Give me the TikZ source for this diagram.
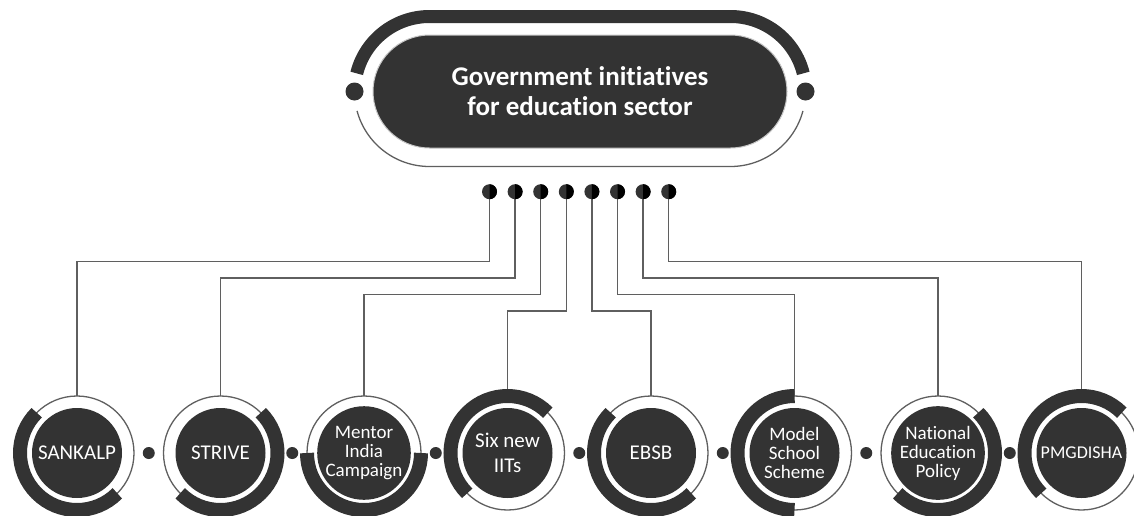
\documentclass[tikz,border=0pt]{standalone}
\usepackage{fontspec}
\setmainfont{Carlito}[Ligatures={NoCommon}]
\usetikzlibrary{shapes.misc}
\pgfdeclarelayer{bg}
\pgfsetlayers{bg,main}
\definecolor{ink}{HTML}{333333}
\definecolor{wirec}{HTML}{5F5F5F}
\begin{document}
\begin{tikzpicture}[x=1pt,y=1pt,
  wire/.style={draw=wirec, line width=1.5pt},
  ringline/.style={draw=wirec, line width=1.3pt},
  ring/.style={circle, draw=wirec, line width=1.3pt, minimum size=114pt, inner sep=0pt, outer sep=0pt},
  disk/.style={circle, fill=ink, minimum size=90pt, inner sep=0pt, text=white, align=center, font=\fontsize{21}{21}\selectfont},
  stack/.style={font=\fontsize{19}{19}\selectfont},
  band/.style={draw=ink, line width=14pt},
  knob/.style={circle, fill=ink, minimum size=12pt, inner sep=0pt},
  pin/.style={circle, fill=ink, minimum size=15pt, inner sep=0pt, outer sep=0pt},
  bigknob/.style={circle, fill=ink, minimum size=18pt, inner sep=0pt},
]
\clip (0,0) rectangle (1134,-515);

% ---- title capsule ----
\node[rounded rectangle, fill=ink, draw=black!22, line width=1pt,
      minimum width=414pt, minimum height=113pt, inner sep=0pt,
      text=white, align=center, font=\bfseries\fontsize{27}{30}\selectfont]
  (head) at (580,-91.5) {Government initiatives\\for education sector};
\draw[band, line width=13pt] (429.5,-91.5) ++(166:75)
  arc[start angle=166, end angle=90, radius=75] -- (730.5,-16.5)
  arc[start angle=90, end angle=14, radius=75];
\draw[ringline] (429.5,-91.5) ++(195:75)
  arc[start angle=195, end angle=270, radius=75] -- (730.5,-166.5)
  arc[start angle=270, end angle=345, radius=75];
\node[bigknob] (hl) at (354.5,-91.5) {};
\node[bigknob] (hr) at (805.5,-91.5) {};

% ---- connector pins ----
\foreach \i in {1,...,8}{
  \node[pin] (p\i) at ({489.5+25.6*(\i-1)},-191.7) {};
  \fill[black] (p\i.north) arc[start angle=90, end angle=-90, radius=7.5];
}

% ---- initiative rings ----
\foreach \i in {1,...,8}{
  \node[ring] (r\i) at ({77+143.5*(\i-1)},-453) {};
}
\node[disk] (n1) at (r1) {SANKALP};
\node[disk] (n2) at (r2) {STRIVE};
\node[disk, stack] (n3) at (r3) {Mentor\\India\\Campaign};
\node[disk, font=\fontsize{21}{25.5}\selectfont] (n4) at (r4) {Six new\\IITs};
\node[disk] (n5) at (r5) {EBSB};
\node[disk, stack] (n6) at (r6) {Model\\School\\Scheme};
\node[disk, stack] (n7) at (r7) {National\\Education\\Policy};
\node[disk, font=\fontsize{18}{18}\selectfont] (n8) at (r8) {PMGDISHA};

% thick partial bands around each ring
\foreach \i/\a/\b in {1/135/315, 2/-135/45, 3/180/360, 4/45/225,
                      5/135/315, 6/90/270, 7/-135/45, 8/45/225}{
  \draw[band] (r\i.center) ++(\a:57) arc[start angle=\a, end angle=\b, radius=57];
}

% small dots between the rings
\foreach \i in {1,...,7}{
  \node[knob] (k\i) at ({77+143.5*(\i-0.5)},-453) {};
}

% ---- elbow connectors ----
\begin{pgfonlayer}{bg}
\draw[wire] (p1.center) -- ++(0,-69.8)  -| (r1.north);
\draw[wire] (p2.center) -- ++(0,-86.3)  -| (r2.north);
\draw[wire] (p3.center) -- ++(0,-102.8) -| (r3.north);
\draw[wire] (p4.center) -- ++(0,-119.3) -| (r4.north);
\draw[wire] (p5.center) -- ++(0,-119.3) -| (r5.north);
\draw[wire] (p6.center) -- ++(0,-102.8) -| (r6.north);
\draw[wire] (p7.center) -- ++(0,-86.3)  -| (r7.north);
\draw[wire] (p8.center) -- ++(0,-69.8)  -| (r8.north);
\end{pgfonlayer}
\end{tikzpicture}
\end{document}
